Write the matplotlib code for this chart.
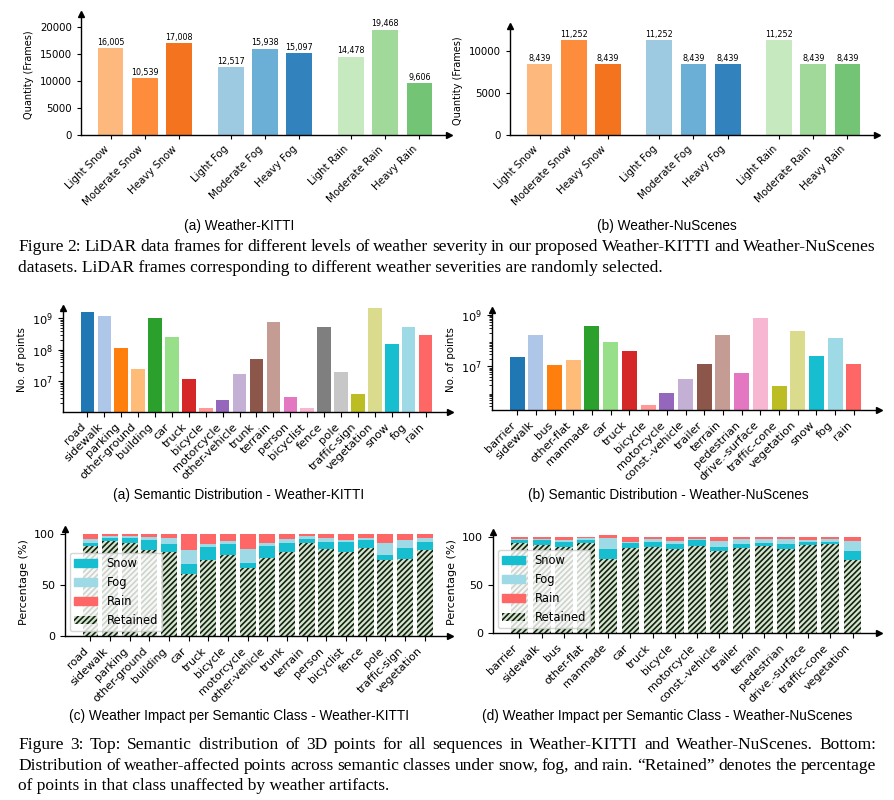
import matplotlib
matplotlib.use("Agg")
import matplotlib.pyplot as plt
from matplotlib.patches import Patch

# ---- Figure 2 data: frames per weather severity ----
severity_labels = ['Light Snow', 'Moderate Snow', 'Heavy Snow',
                   'Light Fog', 'Moderate Fog', 'Heavy Fog',
                   'Light Rain', 'Moderate Rain', 'Heavy Rain']
severity_pos = [0, 1, 2, 3.5, 4.5, 5.5, 7, 8, 9]
kitti_frames = [16005, 10539, 17008, 12517, 15938, 15097, 14478, 19468, 9606]
nusc_frames = [8439, 11252, 8439, 11252, 8439, 8439, 11252, 8439, 8439]
severity_colors = ['#fdb97d', '#fd8d3c', '#f3731f',
                   '#9ecae1', '#6baed6', '#3182bd',
                   '#c7e9c0', '#a1d99b', '#74c476']

# ---- Figure 3 top: semantic distribution (number of points) ----
kitti_classes = ['road', 'sidewalk', 'parking', 'other-ground', 'building', 'car',
                 'truck', 'bicycle', 'motorcycle', 'other-vehicle', 'trunk', 'terrain',
                 'person', 'bicyclist', 'fence', 'pole', 'traffic-sign', 'vegetation',
                 'snow', 'fog', 'rain']
kitti_points = [1.55e9, 1.16e9, 1.13e8, 2.45e7, 9.9e8, 2.45e8, 1.16e7, 1.4e6, 2.5e6,
                1.66e7, 5.1e7, 7.3e8, 3.1e6, 1.4e6, 5.1e8, 1.92e7, 3.9e6, 2.15e9,
                1.47e8, 5.1e8, 2.84e8]
nusc_classes = ['barrier', 'sidewalk', 'bus', 'other-flat', 'manmade', 'car', 'truck',
                'bicycle', 'motorcycle', 'const.-vehicle', 'trailer', 'terrain',
                'pedestrian', 'drive.-surface', 'traffic-cone', 'vegetation',
                'snow', 'fog', 'rain']
nusc_points = [2.23e7, 1.58e8, 1.1e7, 1.81e7, 3.53e8, 8.5e7, 3.8e7, 3.4e5, 9.9e5,
               3.4e6, 1.3e7, 1.58e8, 5.4e6, 7.2e8, 1.84e6, 2.26e8, 2.44e7, 1.21e8, 1.2e7]
class_colors = ['#1f77b4', '#aec7e8', '#ff7f0e', '#ffbb78', '#2ca02c', '#98df8a',
                '#d62728', '#ff9896', '#9467bd', '#c5b0d5', '#8c564b', '#c49c94',
                '#e377c2', '#f7b6d2', '#7f7f7f', '#c7c7c7', '#bcbd22', '#dbdb8d',
                '#17becf', '#9edae5', '#ff6666']
# nuScenes skips the two grey entries
nusc_colors = class_colors[:14] + class_colors[16:]

# ---- Figure 3 bottom: weather impact per class (percent) ----
kitti_impact_classes = kitti_classes[:18]
kitti_retained = [88.8, 92.8, 91.4, 84.5, 82.6, 61.2, 75.0, 79.0, 66.8,
                  77.0, 82.0, 90.8, 85.5, 82.9, 86.5, 75.0, 75.7, 84.5]
kitti_snow = [2.6, 3.6, 5.0, 9.9, 7.9, 9.8, 12.5, 10.8, 5.2,
              11.5, 8.8, 4.6, 6.9, 8.9, 7.9, 4.0, 10.2, 7.9]
kitti_fog = [4.0, 1.6, 1.6, 3.0, 5.9, 13.5, 2.3, 3.6, 13.5,
             2.9, 4.6, 3.0, 4.0, 2.6, 2.0, 11.8, 8.5, 4.0]
kitti_rain = [4.6, 2.0, 2.0, 2.6, 3.6, 15.5, 10.2, 6.6, 14.5,
              8.6, 4.6, 1.6, 3.6, 5.6, 3.6, 9.2, 5.6, 3.6]

nusc_impact_classes = nusc_classes[:16]
nusc_retained = [93.7, 91.6, 89.5, 93.7, 77.0, 88.5, 89.5, 87.5, 90.9, 85.4,
                 88.5, 90.9, 87.5, 91.6, 92.7, 76.0]
nusc_snow = [2.5, 4.9, 5.6, 2.8, 10.5, 5.2, 5.3, 5.2, 5.3, 4.1,
             4.2, 3.1, 5.2, 3.2, 2.1, 9.4]
nusc_fog = [1.7, 1.4, 2.1, 2.1, 11.5, 1.4, 2.8, 3.1, 1.4, 6.3,
            4.9, 3.6, 4.9, 2.1, 2.8, 10.4]
nusc_rain = [2.1, 2.1, 2.8, 1.4, 3.4, 4.9, 2.4, 4.2, 2.4, 4.2,
             2.4, 2.4, 2.4, 3.1, 2.4, 4.2]

snow_color = '#17becf'
fog_color = '#9edae5'
rain_color = '#ff6666'
retained_face = '#d3e6cc'
retained_hatch = '#142014'

plt.rcParams['hatch.linewidth'] = 1.2

fig = plt.figure(figsize=(8.94, 8.0), dpi=100)
W, H = 894.0, 800.0


def add_axes(left, top, right, bottom):
    # pixel box -> figure fraction
    return fig.add_axes([left / W, 1 - bottom / H, (right - left) / W, (bottom - top) / H])


def arrow_spines(ax):
    for s in ['top', 'right']:
        ax.spines[s].set_visible(False)
    for s in ['left', 'bottom']:
        ax.spines[s].set_linewidth(1.0)
    ax.plot(1, 0, '>k', ms=4, transform=ax.transAxes, clip_on=False)
    ax.plot(0, 1, '^k', ms=4, transform=ax.transAxes, clip_on=False)


def severity_chart(ax, values):
    bars = ax.bar(severity_pos, values, width=0.75, color=severity_colors)
    ax.bar_label(bars, labels=[f'{v:,}' for v in values], fontsize=5.8, padding=1)
    ax.set_ylim(0, max(values) * 1.15)
    ax.set_xticks(severity_pos)
    ax.set_xticklabels(severity_labels, rotation=45, ha='right', fontsize=7.4)
    ax.tick_params(axis='y', labelsize=7.4, length=3)
    ax.tick_params(axis='x', length=3)
    ax.set_ylabel('Quantity (Frames)', fontsize=7)
    arrow_spines(ax)


def semantic_chart(ax, classes, values, colors, ticks):
    ax.bar(range(len(classes)), values, width=0.8, color=colors)
    ax.set_yscale('log')
    ax.set_yticks(ticks)
    ax.set_xticks(range(len(classes)))
    ax.set_xticklabels(classes, rotation=45, ha='right', fontsize=8.2)
    ax.tick_params(axis='y', labelsize=8.2)
    ax.set_ylabel('No. of points', fontsize=7.4)
    arrow_spines(ax)


def impact_chart(ax, classes, retained, snow, fog, rain):
    x = range(len(classes))
    b1 = [r for r in retained]
    b2 = [r + s for r, s in zip(retained, snow)]
    b3 = [r + s + f for r, s, f in zip(retained, snow, fog)]
    ax.bar(x, retained, width=0.8, color=retained_face, edgecolor=retained_hatch,
           linewidth=0, hatch='//////')
    ax.bar(x, snow, bottom=b1, width=0.8, color=snow_color)
    ax.bar(x, fog, bottom=b2, width=0.8, color=fog_color)
    ax.bar(x, rain, bottom=b3, width=0.8, color=rain_color)
    ax.set_ylim(0, 105)
    ax.set_yticks([0, 50, 100])
    ax.set_xticks(list(x))
    ax.set_xticklabels(classes, rotation=45, ha='right', fontsize=8)
    ax.tick_params(axis='y', labelsize=8)
    ax.set_ylabel('Percentage (%)', fontsize=8)
    handles = [Patch(color=snow_color), Patch(color=fog_color), Patch(color=rain_color),
               Patch(facecolor=retained_face, edgecolor=retained_hatch, linewidth=0,
                     hatch='//////')]
    ax.legend(handles, ['Snow', 'Fog', 'Rain', 'Retained'], loc='lower left',
              fontsize=8.3, borderaxespad=0.4)
    arrow_spines(ax)


ax_a = add_axes(81, 14, 449, 135)
severity_chart(ax_a, kitti_frames)
ax_b = add_axes(510, 26, 877, 135)
severity_chart(ax_b, nusc_frames)

ax_c = add_axes(63, 308, 450, 412)
semantic_chart(ax_c, kitti_classes, kitti_points, class_colors, [1e7, 1e8, 1e9])
ax_c.set_ylim(1.05e6, 2.1e9)
ax_d = add_axes(492, 310, 879, 410)
semantic_chart(ax_d, nusc_classes, nusc_points, nusc_colors, [1e7, 1e9])
ax_d.set_ylim(2.1e5, 1.5e9)

ax_e = add_axes(65, 529, 450, 636)
impact_chart(ax_e, kitti_impact_classes, kitti_retained, kitti_snow, kitti_fog, kitti_rain)
ax_f = add_axes(493, 532, 879, 633)
impact_chart(ax_f, nusc_impact_classes, nusc_retained, nusc_snow, nusc_fog, nusc_rain)

# sub-captions
sub_font = dict(family='Liberation Sans', fontsize=9.8, ha='center', va='center')
fig.text(239 / W, 1 - 226 / H, '(a) Weather-KITTI', **sub_font)
fig.text(667 / W, 1 - 226 / H, '(b) Weather-NuScenes', **sub_font)
fig.text(239 / W, 1 - 495 / H, '(a) Semantic Distribution - Weather-KITTI', **sub_font)
fig.text(668 / W, 1 - 495 / H, '(b) Semantic Distribution - Weather-NuScenes', **sub_font)
fig.text(239 / W, 1 - 716 / H, '(c) Weather Impact per Semantic Class - Weather-KITTI', **sub_font)
fig.text(667 / W, 1 - 716 / H, '(d) Weather Impact per Semantic Class - Weather-NuScenes', **sub_font)

# justified paragraph captions
fig2_lines = ['Figure 2: LiDAR data frames for different levels of weather severity in our proposed Weather-KITTI and Weather-NuScenes',
              'datasets. LiDAR frames corresponding to different weather severities are randomly selected.']
fig3_lines = ['Figure 3: Top: Semantic distribution of 3D points for all sequences in Weather-KITTI and Weather-NuScenes. Bottom:',
              'Distribution of weather-affected points across semantic classes under snow, fog, and rain. \u201cRetained\u201d denotes the percentage',
              'of points in that class unaffected by weather artifacts.']


def paragraph(lines, y0, dy, size=12.5):
    renderer = fig.canvas.get_renderer()
    x0, x1 = 18 / W, 876 / W
    for i, line in enumerate(lines):
        y = 1 - (y0 + i * dy) / H
        if i == len(lines) - 1:
            fig.text(x0, y, line, family='Liberation Serif', fontsize=size, va='center')
            continue
        words = line.split()
        texts = [fig.text(0, y, w, family='Liberation Serif', fontsize=size, va='center')
                 for w in words]
        widths = [t.get_window_extent(renderer).width / fig.bbox.width for t in texts]
        gap = (x1 - x0 - sum(widths)) / (len(words) - 1)
        x = x0
        for t, w in zip(texts, widths):
            t.set_x(x)
            x += w + gap


paragraph(fig2_lines, 247, 21)
paragraph(fig3_lines, 745, 20.5)

fig.savefig('out.png', dpi=100)
